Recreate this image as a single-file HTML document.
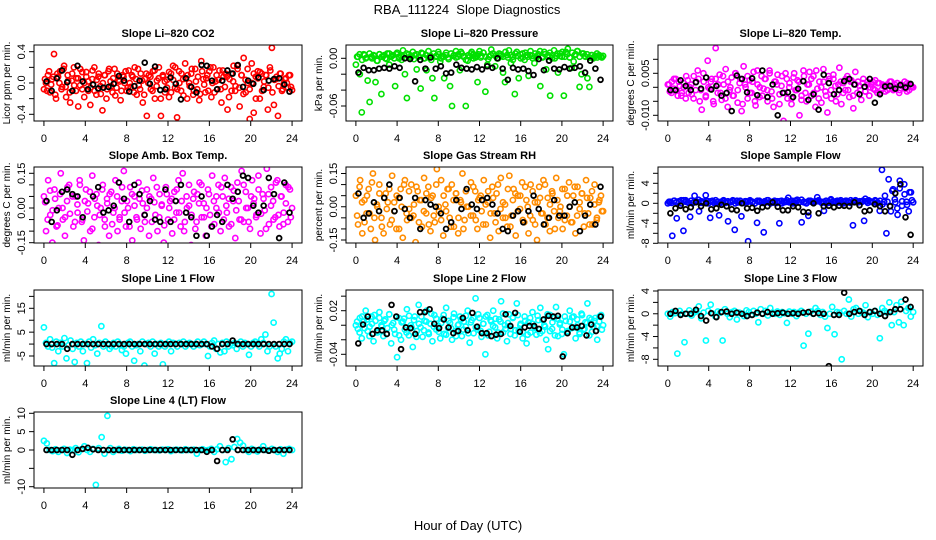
<!DOCTYPE html>
<html><head><meta charset="utf-8">
<style>
html,body{margin:0;padding:0;background:#fff;}
svg{display:block;font-family:"Liberation Sans",Arial,sans-serif;}
</style></head>
<body>
<svg id="chart" width="936" height="540" viewBox="0 0 936 540" xmlns="http://www.w3.org/2000/svg">
<rect width="936" height="540" fill="#fff"/>
<text x="467" y="14" font-size="13" text-anchor="middle" style="white-space:pre">RBA_111224  Slope Diagnostics</text>
<text x="468" y="530" font-size="13" text-anchor="middle">Hour of Day (UTC)</text>
</svg>
<script>
// ---- data ----
const xTicks = [0,4,8,12,16,20,24];
const co2Main = [-0.08,0,0.10,-0.12,0.05,0.37,-0.20,0.08,0.15,-0.05,0.22,-0.18,0.03,-0.25,0.12,-0.03,0.06,-0.30,0.18,-0.08,0,0.14,-0.10,-0.28,0.05,0.20,-0.15,0.08,-0.04,-0.35,0.10,-0.20,0.15,0.02,-0.12,0.18,-0.06,0.04,-0.22,0.10,0,-0.10,0.16,-0.05,0.08,0.20,-0.15,-0.03,0.12,-0.25,0.05,-0.42,0.10,-0.08,0.15,-0.20,0.03,0.20,-0.42,0.08,-0.12,0.04,-0.18,0.12,0.22,-0.06,-0.44,0.15,-0.10,0.05,0.25,-0.20,0,0.12,-0.15,0.18,-0.08,-0.22,0.28,0.05,-0.12,0.10,0.15,-0.18,0.20,0.02,-0.08,0.16,-0.25,0.08,0.12,-0.34,0.05,-0.10,0.22,-0.04,0.18,-0.30,0.10,0.32,-0.12,0,-0.46,0.25,-0.38,0.08,0.15,-0.20,0.12,-0.05,0.10,-0.34,0.20,0.45,-0.28,0.05,-0.42,0.12,-0.10,0,0.06,-0.06,0.1,-0.09];
const co2Main2 = [0.05,-0.1,0.15,-0.02,0.08,-0.15,0.12,0,-0.08,0.18,-0.05,0.1,-0.12,0.03,0.2,-0.1,0.06,-0.03,0.14,-0.18,0.08,0.02,-0.06,0.16,-0.1,0.04,0.12,-0.14,0,0.1,-0.08,0.18,-0.04,0.06,-0.16,0.12,0.02,-0.1,0.08,0.15,-0.06,0,0.1,-0.12,0.05,0.18,-0.08,0.03,-0.15,0.12,0,0.08,-0.1,0.16,-0.04,0.06,-0.2,0.1,0.02,-0.06,0.14,-0.12,0.04,0.2,-0.08,0,0.12,-0.16,0.06,0.1,-0.04,0.18,-0.1,0.02,0.08,-0.14,0.15,-0.02,0.06,-0.1,0.2,0,-0.12,0.1,0.04,-0.08,0.16,-0.05,0.08,-0.18,0.12,0.02,-0.1,0.22,-0.06,0.1,-0.14,0.04,0.18,-0.08,0,0.12,-0.2,0.06,0.14,-0.1,0.02,0.1,-0.06,0.16,-0.12,0.04,0.08,-0.04,0.12,-0.08,0.05,0,0.1,-0.05];
const co2Ref = [0.02,-0.10,0.06,0.16,0.01,-0.10,0.22,0.02,-0.08,-0.02,-0.07,-0.06,-0.05,-0.01,0.09,0.03,-0.11,-0.04,0.03,0.26,-0.01,0.21,-0.09,-0.08,0.07,-0.01,-0.21,0.06,-0.05,-0.12,0.23,0.22,0.03,-0.08,0.03,0.16,0.12,0.23,-0.05,0.03,-0.01,0.07,-0.09,0.03,0.05,0.06,-0.02,-0.11];
const presMain = [-0.008,0.002,-0.020,-0.068,0.005,0,-0.028,-0.055,0.002,0.004,-0.030,-0.003,0.005,-0.045,0.003,0,0.006,-0.008,0.002,0.004,-0.035,0.007,0,0.003,0.010,-0.020,-0.050,0.005,0.001,0.008,0.004,-0.014,0.002,-0.038,0.006,0,-0.015,0.009,0.003,-0.025,-0.050,0.002,0.008,-0.004,0.003,-0.025,0.007,0.001,-0.035,-0.060,0.004,0.009,0.002,-0.015,0.006,0.003,-0.060,-0.003,0.002,0.008,0.005,0.001,-0.030,0.009,0.003,0.007,-0.042,-0.008,0.002,0.011,0.005,-0.010,0,0.006,0.003,-0.018,-0.030,0.004,0.010,-0.006,0.002,-0.045,0.008,-0.025,0,0.006,-0.002,0.004,-0.022,0.009,0.003,-0.006,0.001,0.005,-0.035,0.002,0.008,-0.014,0.004,-0.047,0,0.010,0.003,-0.018,0.006,0.002,-0.047,0.008,0.012,0.001,-0.012,-0.004,0.005,0.009,-0.036,-0.020,0.006,0.002,-0.025,-0.036,0.004,0,0.003,0.001,0.004,0.002,0.003];
const presMain2 = [0.002,0.005,-0.002,0.004,0.001,0.006,0,0.003,-0.003,0.005,0.002,0.004,-0.001,0.006,0.003,0,0.005,0.002,-0.002,0.004,0.006,0.001,0.003,-0.001,0.005,0.002,0.007,0,0.004,0.001,-0.002,0.006,0.003,0.005,0,0.002,0.004,-0.001,0.006,0.003,0.001,0.005,0.008,0.002,-0.002,0.004,0.006,0,0.003,0.005,0.001,0.007,0.002,-0.001,0.004,0.006,0.003,0,0.005,0.002,0.008,0.001,0.004,-0.002,0.006,0.003,0.005,0.001,0.007,0.002,0.004,0,0.006,0.003,0.009,0.001,0.005,0.002,0.007,0.004,0,0.006,0.003,0.008,0.002,0.005,0.001,0.007,0.004,0.009,0.002,0.006,0.003,0.005,0.001,0.004,0.002,0.006,0.003,0.001];
const presRef = [-0.018,-0.012,-0.015,-0.015,-0.013,-0.012,-0.013,-0.010,-0.012,0,-0.001,-0.029,-0.002,-0.013,0.001,-0.013,-0.010,-0.019,-0.018,-0.008,-0.012,-0.013,-0.014,-0.011,-0.014,-0.010,-0.012,0,-0.013,-0.027,-0.012,-0.014,-0.013,-0.016,-0.021,-0.001,-0.015,-0.003,-0.013,-0.014,-0.011,-0.013,-0.012,-0.010,-0.018,-0.003,-0.013,-0.027];
const tempMain = [0.0010,-0.0015,0.0020,-0.0005,0.0030,-0.0030,0.0005,-0.0020,0.0015,-0.0040,0.0025,0,-0.0025,0.0040,-0.0010,0.0060,-0.0050,-0.0080,0.0020,-0.0035,0.0095,-0.0005,0.0030,-0.0060,0.0140,-0.0020,0.0045,-0.0045,0.0010,0.0065,-0.0070,-0.0010,0.0035,-0.0030,0.0050,-0.0055,0.0015,-0.0085,0.0075,0,-0.0040,0.0025,-0.0020,0.0055,-0.0065,0.0010,-0.0035,0.0040,-0.0005,0.0030,-0.0050,0.0060,-0.0015,-0.0070,0.0020,0.0045,-0.0025,0.0005,-0.0120,0.0050,-0.0040,0.0015,-0.0060,0.0035,-0.0010,0.0025,-0.0100,-0.0045,0.0060,-0.0020,0.0010,0.0055,-0.0030,0.0040,-0.0070,-0.0005,0.0020,-0.0055,0.0065,-0.0015,-0.0090,0.0030,-0.0040,0.0045,0.0005,-0.0025,0.0070,-0.0060,0.0015,-0.0010,0.0040,-0.0035,0.0025,-0.0075,0.0055,-0.0020,0.0005,-0.0045,0.0030,-0.0015,0.0020,-0.0030,0.0010,-0.0005,0.0025,-0.0020,0.0015,-0.0010,0.0005,-0.0015,0.0010,-0.0005,0.0020,-0.0010,0,0.0015,-0.0020,0.0010,0.0005,-0.0005,0.0015,-0.0010,0.0005,0];
const tempMain2 = [0.001,-0.002,0.003,-0.001,0.002,-0.003,0,0.004,-0.002,0.001,-0.004,0.002,0.003,-0.001,0.005,-0.003,0,0.002,-0.005,0.003,0.001,-0.002,0.004,-0.004,0.002,0,-0.003,0.005,-0.001,0.003,-0.006,0.001,0.004,-0.002,0.002,-0.005,0.006,0,-0.003,0.003,-0.001,0.005,-0.004,0.002,0.001,-0.006,0.004,-0.002,0.003,0,-0.004,0.005,-0.001,0.002,-0.003,0.004,-0.005,0.001,0.003,-0.002,0.006,-0.004,0,0.002,-0.003,0.004,-0.001,0.003,-0.005,0.001,0.002,-0.002,0.003,-0.001,0.002,-0.003,0.001,0.002,-0.001,0.0015,-0.0015,0.001,0,0.002,-0.001,0.0015,-0.002,0.001,0.0005,-0.001,0.002,-0.0005,0.001,0.0015,-0.001,0.0005,0.002,-0.0015,0.001,0];
const tempRef = [-0.0010,-0.0010,0.0025,0.0005,-0.0010,0.0018,-0.0005,0.0035,-0.0008,0.0005,-0.0030,-0.0020,-0.0085,0.0042,0.0030,-0.0018,0.0032,-0.0028,0.0060,-0.0035,0.0010,-0.0100,-0.0020,-0.0018,-0.0035,-0.0005,0.0022,-0.0045,-0.0025,-0.0080,0.0045,0.0015,-0.0025,-0.0010,0.0022,0.0030,0.0010,-0.0025,0.0002,0.0030,-0.0055,-0.0025,0.0003,0.0005,-0.0005,0.0008,-0.0001,0.0012];
const ambMain = [0.05,-0.10,0.12,-0.03,-0.15,0.08,-0.08,0,0.15,-0.05,-0.12,0.03,0.10,-0.20,-0.08,0.05,-0.02,0.12,-0.06,-0.14,0.08,0.02,-0.10,0.14,-0.04,0.06,-0.16,0,0.10,-0.08,0.04,-0.12,0.07,-0.02,0.12,-0.10,-0.05,0.03,0.16,-0.08,0,0.09,-0.14,0.05,-0.04,0.11,-0.09,0.02,-0.06,0.08,-0.12,0.04,0.13,-0.03,-0.10,0.06,0.01,-0.15,0.09,-0.05,0.03,-0.11,0.07,-0.02,0.12,-0.08,0.15,-0.06,0,0.10,-0.16,0.04,-0.09,0.06,0.11,-0.04,0.02,-0.12,0.08,-0.03,0.14,-0.07,0,0.10,-0.10,0.05,0.13,-0.02,-0.08,0.09,0.03,-0.13,0.11,-0.05,0.16,-0.06,0.07,0,-0.09,0.12,0.04,-0.03,0.14,-0.11,0.06,-0.01,0.17,-0.07,0.09,0.03,-0.04,0.12,-0.08,0.05,-0.02,0.10,-0.06,0.08,0];
const ambMain2 = [0.025,-0.05,0.075,-0.01,0.04,-0.075,0.06,0,-0.04,0.09,-0.025,0.05,-0.06,0.015,0.1,-0.05,0.03,-0.015,0.07,-0.09,0.04,0.01,-0.03,0.08,-0.05,0.02,0.06,-0.07,0,0.05,-0.04,0.09,-0.02,0.03,-0.08,0.06,0.01,-0.05,0.04,0.075,-0.03,0,0.05,-0.06,0.025,0.09,-0.04,0.015,-0.075,0.06,0,0.04,-0.05,0.08,-0.02,0.03,-0.1,0.05,0.01,-0.03,0.07,-0.06,0.02,0.1,-0.04,0,0.06,-0.08,0.03,0.05,-0.02,0.09,-0.05,0.01,0.04,-0.07,0.075,-0.01,0.03,-0.05,0.1,0,-0.06,0.05,0.02,-0.04,0.08,-0.025,0.04,-0.09,0.06,0.01,-0.05,0.11,-0.03,0.05,-0.07,0.02,0.09,-0.04];
const ambRef = [0.03,-0.06,-0.01,0.07,0.08,0.06,0.05,-0.04,-0.17,0.05,0.09,-0.02,-0.01,0.01,0.11,0.04,-0.06,0.10,0.06,-0.03,0.03,-0.05,-0.06,0.08,-0.06,0.03,0.10,-0.02,-0.04,-0.12,0.05,-0.12,-0.08,-0.03,-0.06,0.10,0.04,0.07,0.14,0.13,0.01,-0.02,0.01,0.13,0.06,-0.13,0.11,-0.02];
const rhMain = [0.05,-0.08,0.12,-0.12,0.03,-0.03,0.08,-0.10,0.15,-0.15,0,0.10,-0.05,-0.12,0.06,0.02,-0.08,0.14,-0.02,-0.10,0.04,0.08,-0.14,0.12,-0.06,-0.01,0.10,-0.04,-0.16,0.07,0.03,-0.09,0.13,-0.03,0.09,-0.11,0.05,-0.07,0.17,-0.02,0.12,-0.13,0.01,0.08,-0.05,0.10,-0.09,0.06,-0.12,0.03,0.15,-0.06,0,-0.20,0.11,-0.04,0.07,-0.10,0.04,-0.02,0.12,-0.08,0.02,-0.14,0.09,-0.03,0.06,-0.11,0.13,-0.05,0.01,-0.09,0.14,-0.04,0.08,-0.13,0.05,-0.01,0.11,-0.07,0.03,-0.12,0.10,-0.06,0.02,-0.15,0.09,-0.03,0.12,-0.08,0.04,-0.11,0.07,-0.02,0.13,-0.05,0,-0.10,0.08,-0.04,0.11,-0.07,0.05,-0.12,0.09,-0.01,0.06,-0.09,0.12,-0.03,0.04,-0.08,0.10,-0.06,0.02,0.05,-0.02];
const rhMain2 = [-0.04,0.09,0.02,-0.07,0.05,-0.03,0.11,-0.05,0.01,0.06,-0.09,0.04,-0.01,0.08,-0.06,0.02,0.05,-0.1,0,0.1,-0.03,0.07,-0.05,0.01,0.09,-0.07,0.03,-0.02,0.06,-0.08,0.04,-0.04,0.1,0,-0.06,0.05,-0.02,0.08,-0.09,0.03,0.06,-0.05,0.02,-0.1,0.07,0,-0.04,0.09,-0.06,0.03,0.05,-0.08,0.01,0.07,-0.03,0.04,-0.07,0.1,-0.01,0.02,-0.05,0.08,-0.09,0.03,0.06,-0.02,0.05,-0.06,0.09,0,-0.04,0.07,-0.08,0.02,0.04,-0.03,0.1,-0.05,0.01,0.06,-0.1,0.03,-0.02,0.08,-0.06,0.05,0,-0.07,0.09,-0.04,0.02,0.06,-0.03,0.04,-0.08,0.07,0.01,-0.05,0.03,-0.02];
const rhRef = [0.06,-0.05,-0.03,0.02,-0.02,0.04,0.10,-0.02,0.04,-0.01,-0.05,0.04,-0.10,0.03,0.01,0,-0.03,-0.10,-0.07,0.03,-0.01,0.08,0.01,-0.01,0.03,0.04,0.01,-0.03,-0.10,-0.11,-0.04,-0.02,-0.07,-0.02,0.05,-0.01,-0.08,-0.05,0.03,-0.04,-0.04,0,0.02,-0.11,-0.04,0.01,-0.08,0.09];
const sampleMain = [0,0.3,-6.5,0.5,-3,0.3,0.6,-5.5,0.6,0.2,-2.7,0,1.5,0.3,-1.6,0.4,0.2,1.6,0.4,-2.9,0.5,0,0.2,-2.4,0.3,0.6,0.1,-3.6,0.2,0.4,-5.3,0.5,0.2,-2.6,0.1,0.4,-7.6,0.4,0.3,0,-3.9,0.5,0.2,-5.8,0.2,0.6,0,0.3,0.1,0.4,-4,0.5,0.2,0.3,1.1,0.4,0,0.5,0.7,0.2,-3.8,0.3,0.1,-2.5,0.5,0.2,0.4,1.2,0.4,0.1,-1.5,0,0.3,0.6,0.3,0.2,0.5,0.4,0,0.3,0.5,0.2,0.6,-4.4,0.5,0.2,0.4,0.3,-3.5,0.4,0.6,0.3,0.2,0.5,0,-1.5,6.7,0.3,-6,4.8,-1.6,2.8,0.2,-2.3,4.5,-0.5,3.8,0.3,-1.6,2.2,0.2];
const sampleMain2 = [0.3,0.1,0.5,0.2,0.4,0,0.6,0.3,0.1,0.5,0.2,0.4,0.7,0.1,0.3,0.5,0,0.4,0.2,0.6,0.3,0.1,0.5,0.2,0.4,0.3,0.6,0,0.2,0.5,0.1,0.4,0.3,0.6,0.2,0,0.5,0.3,0.1,0.4,0.6,0.2,0.3,0.5,0.1,0.4,0,0.3,0.6,0.2,0.5,0.1,0.4,0.3,0.7,0.2,0,0.5,0.3,0.1,0.4,0.6,0.2,0.3,0.5,0.1,0.8,0.3,0.4,0.2,0.6,0,0.5,0.3,0.1,0.4,0.6,0.2,0.3,0.5,0.9,0.1,0.4,0.3,0.6,0.2,0.5,-0.2,1.5,0.3,-0.5,2.5,0.8,-1,3,0.4,1.8,-0.3,2.2,0.6];
const sampleRef = [-2,-1,-0.5,-1.2,-0.8,0.2,-0.6,0,-1.2,-1,-0.3,-0.6,-1.2,-1.4,0,-1,-0.9,-1.5,-0.8,-0.6,0.2,-0.7,-1.4,-1.4,-0.6,-0.8,-1.7,-1.8,0,-2,-0.6,-0.5,-0.8,-0.5,-0.5,-0.6,0.2,-0.4,-1.6,-1.4,-0.2,-0.6,-1.6,-0.6,2,3.8,-2.8,-6.3];
const line1Main = [7,0.5,-1,2,-1.5,-8,1,-3,0.5,-1,2.5,-6,-0.5,1.5,-2,-7.5,0.5,-1,1,-3,0,-8,1,-1.5,2,-0.5,-4,0.5,7.5,-1,1,0,-2,-1,0.5,-1,1,0,-2.5,-1,-4,0.5,1,-1,-7,-0.5,0,-3,1,-9,0,0.5,-1,1,-4,0,-1,0.5,-8.5,-1,0,1,-3,0.5,0,-1,0.5,0,1,-1,0,0.5,0,-1,0,1,-0.5,0,1,0,-5,-1,0.5,1.5,-2,0,-3.5,0.5,-3,1,-1,0,-0.5,0.5,-2,0,1,-1,0.5,0,-4.5,-1,0.5,1,0,-1,2,0.5,4,-3,-1,21,9,-1,-6,-4,-2,1,2,-3,0.5,1];
const line1Ref = [0,0,0,0,-2,0,0,0,0,0,0,0,0,0,0,0,0,0,0,0,0,0,0,0,0,0,0,0,0,0,0,0,-1,-2,0,0,1.5,0,0,0,0,0,0,0,0,0,0,0];
const line2Main = [0,-0.005,0.010,-0.018,0.005,0.020,-0.008,-0.002,0.012,-0.022,0.006,-0.010,0.018,0,-0.015,0.008,-0.004,0.015,-0.025,0.003,-0.012,-0.044,0.010,-0.020,0.005,-0.006,0.022,-0.014,0,-0.030,0.012,-0.008,0.028,-0.003,-0.016,0.006,0.020,-0.010,0.002,-0.022,0.014,-0.006,-0.001,-0.018,0.009,-0.012,0.024,-0.004,0.003,-0.020,0.016,-0.008,0,0.012,-0.015,0.005,-0.002,0.020,-0.024,0.007,-0.011,0.037,-0.006,0.010,-0.016,0.002,-0.040,0.014,-0.009,0.005,0.020,-0.003,-0.018,0.008,0.033,-0.010,0,-0.022,0.015,-0.005,0.010,-0.014,0.030,-0.007,0.002,-0.018,0.012,-0.025,0.004,-0.010,0.018,-0.002,-0.013,0.007,0.024,-0.008,0,-0.020,-0.033,0.014,-0.005,0.010,0.025,-0.015,0.003,-0.012,-0.040,0.006,-0.008,0.020,-0.004,0.012,-0.018,0,-0.010,0.016,-0.006,0.004,0.030,-0.014,0.008,-0.002,0.010,-0.020,0.005,0.014,0];
const line2Main2 = [0.005,-0.01,0.012,-0.004,0.008,-0.015,0.002,0.014,-0.008,0.01,-0.002,0.006,-0.012,0.015,0,-0.006,0.011,-0.014,0.004,0.009,-0.01,0.013,-0.003,0.007,-0.016,0.002,0.012,-0.007,0.005,-0.012,0.016,-0.002,0.009,-0.009,0.003,0.014,-0.013,0.006,-0.004,0.011,-0.015,0.001,0.008,-0.006,0.013,-0.011,0.004,0.01,-0.003,0.015,-0.008,0.002,0.012,-0.014,0.007,-0.001,0.009,-0.01,0.005,0.016,-0.005,0.003,-0.012,0.011,-0.007,0.014,0,-0.009,0.006,-0.013,0.01,0.002,-0.004,0.013,-0.011,0.007,-0.002,0.015,-0.008,0.004,-0.014,0.009,0.001,-0.006,0.012,-0.01,0.005,0.011,-0.003,0.008,-0.012,0.014,-0.005,0.003,0.01,-0.009,0.006,-0.001,0.012,-0.006];
const line2Ref = [-0.025,0.001,0.012,-0.012,-0.007,-0.007,-0.012,0.028,0.012,-0.033,-0.003,-0.004,-0.012,0.018,0.018,0.022,0.002,-0.004,0.008,-0.003,-0.011,-0.008,0.010,-0.007,0.017,-0.002,-0.011,-0.011,-0.015,-0.013,-0.012,0.015,-0.001,0.017,-0.009,-0.003,-0.001,-0.001,-0.005,0.008,0.013,0.012,0.013,-0.043,-0.011,-0.003,-0.003,-0.001,-0.014,0.001,-0.008,0.012];
const line3Main = [0,-0.5,0.3,0.1,-7,0.5,0,-5,0,0.6,-0.3,0.2,0.4,1.3,-0.8,0.2,-4.7,0.5,1.6,0,-0.5,0.4,0.2,-4.7,0.8,0,-0.6,0.3,0.5,-1,0.2,0,-0.4,0.6,0.3,-0.2,0.5,0,-1.5,0.8,0,0.5,-0.3,1,0.2,0,0.4,-0.2,0.3,0.1,-1.6,0.4,0,0.3,-0.4,0.2,0.5,-5.6,0,-3.5,0.4,0,1,0.5,-0.2,0.3,-0.5,-2.5,0,1.2,-3.6,0.3,0.2,-8,0.5,0,2.5,-0.5,0.8,1,0,0.4,0.2,1.5,-0.6,0.3,0,0.5,-0.2,-4.3,1,0.5,0.2,2,-2,0.3,1.5,-1.5,2.1,-2,0.5,1,-0.5,0.3];
const line3Ref = [0,0.5,-0.2,0,0,0.7,-0.4,-1.2,0.1,-0.6,0.3,0.4,0,0.2,0,-0.4,-0.2,0.2,0,0.3,0,0.1,0.2,0,0.1,0,0.2,0.3,0,0.1,0,-9.2,-0.2,-0.2,3.7,0,0.3,0.5,-0.2,0.3,0.5,0,-0.4,0.3,0.8,0.8,2.5,1.2];
const line4Main = [2.5,1.8,0,-0.3,0.2,-0.5,0,0.3,-0.8,0.1,0,0.5,-0.6,0.2,1,0,-0.5,0.3,-9.5,0.5,3.5,-1,9.3,0.5,-0.5,0,0.3,-0.2,0.1,0,-0.3,0.2,0,0,0.1,-0.2,0,0.2,0,0,-0.1,0.1,0,0.2,-0.3,0,0.1,0,-0.1,0.2,0,0,0.1,-1,0,0.2,-0.1,0,0.3,-0.5,0.2,1,0,-3.3,0.5,-2.5,0.8,3,2,1.2,0,-0.5,0.3,0,-0.4,0.2,1,0,-0.2,0.3,0,-0.5,0.2,-1,0.1,0.3,0];
const line4Ref = [0,0,0,0,0,-1.3,0,0.3,0.6,0.2,0,0,0,0,0,0,0,0,0,0,0,0,0,0,0,0,0,0,0,0,0,-0.5,0,-3,0,0,2.9,0,0,0,0,0,0,-0.2,0,0,0,0];
// y tick values and labels
const co2Ticks = [-0.4,-0.2,0,0.2,0.4], co2Labels = ["-0.4","","0.0","","0.4"];
const presTicks = [-0.06,-0.04,-0.02,0], presLabels = ["-0.06","","","0.00"];
const tempTicks = [-0.010,-0.005,0,0.005,0.010], tempLabels = ["-0.010","","","0.005",""];
const ambTicks = [-0.15,-0.10,-0.05,0,0.05,0.10,0.15], ambLabels = ["-0.15","","","0.00","","","0.15"];
const rhTicks = [-0.15,-0.10,-0.05,0,0.05,0.10,0.15], rhLabels = ["-0.15","","","0.00","","","0.15"];
const sampleTicks = [-8,-6,-4,-2,0,2,4,6], sampleLabels = ["-8","","-4","","0","","4",""];
const line1Ticks = [-5,0,5,10,15,20], line1Labels = ["-5","","5","","15",""];
const line2Ticks = [-0.04,-0.02,0,0.02,0.04], line2Labels = ["-0.04","","","0.02",""];
const line3Ticks = [-8,-6,-4,-2,0,2,4], line3Labels = ["-8","","-4","","0","","4"];
const line4Ticks = [-10,-5,0,5,10], line4Labels = ["-10","","0","5","10"];

const NS = "http://www.w3.org/2000/svg";
const svg = document.getElementById('chart');
function mk(tag, attrs, parent){const e=document.createElementNS(NS,tag);for(const k in attrs)e.setAttribute(k,attrs[k]);(parent||svg).appendChild(e);return e;}

const colX = [[34,302],[346,613],[658,923]];
const rowY = [45,167,290,412];
const panels = [
 {name:'co2',title:'Slope Li\u2013820 CO2',yl:'Licor ppm per min.',c:0,r:0,v1:0.4,p1:51.7,v2:-0.4,p2:114.3,main:co2Main,main2:co2Main2,ref:co2Ref,col:'#ff0000',ticks:co2Ticks,labels:co2Labels},
 {name:'pressure',title:'Slope Li\u2013820 Pressure',yl:'kPa per min.',c:1,r:0,v1:0,p1:58.3,v2:-0.06,p2:106,main:presMain,main2:presMain2,ref:presRef,col:'#00e000',ticks:presTicks,labels:presLabels},
 {name:'temp',title:'Slope Li\u2013820 Temp.',yl:'degrees C per min.',c:2,r:0,v1:0.005,p1:73.3,v2:-0.010,p2:115.3,main:tempMain,main2:tempMain2,ref:tempRef,col:'#ff00ff',ticks:tempTicks,labels:tempLabels},
 {name:'amb-box-temp',title:'Slope Amb. Box Temp.',yl:'degrees C per min.',c:0,r:1,v1:0.15,p1:173.3,v2:-0.15,p2:242.7,main:ambMain,main2:ambMain2,ref:ambRef,col:'#ff00ff',ticks:ambTicks,labels:ambLabels},
 {name:'gas-stream-rh',title:'Slope Gas Stream RH',yl:'percent per min.',c:1,r:1,v1:0.15,p1:173.5,v2:-0.15,p2:240,main:rhMain,main2:rhMain2,ref:rhRef,col:'#ff8c00',ticks:rhTicks,labels:rhLabels},
 {name:'sample-flow',title:'Slope Sample Flow',yl:'ml/min per min.',c:2,r:1,v1:4,p1:183.3,v2:-8,p2:243.3,main:sampleMain,main2:sampleMain2,ref:sampleRef,col:'#0000ff',ticks:sampleTicks,labels:sampleLabels},
 {name:'line1-flow',title:'Slope Line 1 Flow',yl:'ml/min per min.',c:0,r:2,v1:15,p1:308.3,v2:-5,p2:356,main:line1Main,main2:[],ref:line1Ref,col:'#00ffff',ticks:line1Ticks,labels:line1Labels},
 {name:'line2-flow',title:'Slope Line 2 Flow',yl:'ml/min per min.',c:1,r:2,v1:0.02,p1:310.7,v2:-0.04,p2:354.3,main:line2Main,main2:line2Main2,ref:line2Ref,col:'#00ffff',ticks:line2Ticks,labels:line2Labels},
 {name:'line3-flow',title:'Slope Line 3 Flow',yl:'ml/min per min.',c:2,r:2,v1:4,p1:291,v2:-8,p2:359.3,main:line3Main,main2:[],ref:line3Ref,col:'#00ffff',ticks:line3Ticks,labels:line3Labels},
 {name:'line4-flow',title:'Slope Line 4 (LT) Flow',yl:'ml/min per min.',c:0,r:3,v1:10,p1:413.3,v2:-10,p2:486.7,main:line4Main,main2:[],ref:line4Ref,col:'#00ffff',ticks:line4Ticks,labels:line4Labels}
];

panels.forEach(p=>{
  const x0=colX[p.c][0], x1=colX[p.c][1], y0=rowY[p.r], y1=y0+76;
  const pad=(x1-x0)*0.04/1.08;
  const xs=h=>x0+pad+(h/24)*(x1-x0-2*pad);
  const ys=v=>p.p1+(v-p.v1)*(p.p2-p.p1)/(p.v2-p.v1);
  const g=mk('g',{});
  
  
  const t=mk('text',{x:(x0+x1)/2,y:y0-8,'font-size':'11','font-weight':'bold','text-anchor':'middle'},g);
  t.textContent=p.title;
  
  
  const yt=mk('text',{transform:`translate(${x0-24},${(y0+y1)/2}) rotate(-90)`,'font-size':'10','text-anchor':'middle'},g);
  yt.textContent=p.yl;
  
  
  const cid='clip-'+p.name;
  const cp=mk('clipPath',{id:cid},g); mk('rect',{x:x0,y:y0,width:x1-x0,height:y1-y0},cp);
  const pts=mk('g',{'clip-path':`url(#${cid})`},g);
  
  
  [p.main, p.main2].forEach((arr,k)=>{
    const n=arr.length;
    arr.forEach((v,i)=>{
      const h = k===0 ? 24*i/(n-1) : 24*(i+0.5)/n;
      const c=mk('circle',{cx:xs(h),cy:ys(v),r:2.6,fill:'none',stroke:p.col,'stroke-width':1.6},pts);
      
      
    });
  });
  const m=p.ref.length;
  p.ref.forEach((v,i)=>{
    const c=mk('circle',{cx:xs((i+0.5)*24/m),cy:ys(v),r:2.4,fill:'none',stroke:'#000','stroke-width':1.8},pts);
    
    
  });
  const box=mk('rect',{x:x0,y:y0,width:x1-x0,height:y1-y0,fill:'none',stroke:'#000','stroke-width':1},g);
  
  
  xTicks.forEach(h=>{
    const x=xs(h);
    mk('line',{x1:x,x2:x,y1:y1,y2:y1+5,stroke:'#000'},g);
    const l=mk('text',{x:x,y:y1+21,'font-size':'11','text-anchor':'middle'},g);
    l.textContent=h;
    
    
  });
  p.ticks.forEach((v,i)=>{
    const y=ys(v);
    mk('line',{x1:x0-5,x2:x0,y1:y,y2:y,stroke:'#000'},g);
    if(p.labels[i]){
      const l=mk('text',{transform:`translate(${x0-9},${y}) rotate(-90)`,'font-size':'11','text-anchor':'middle'},g);
      l.textContent=p.labels[i];
      
      
    }
  });
});
</script>
</body></html>
